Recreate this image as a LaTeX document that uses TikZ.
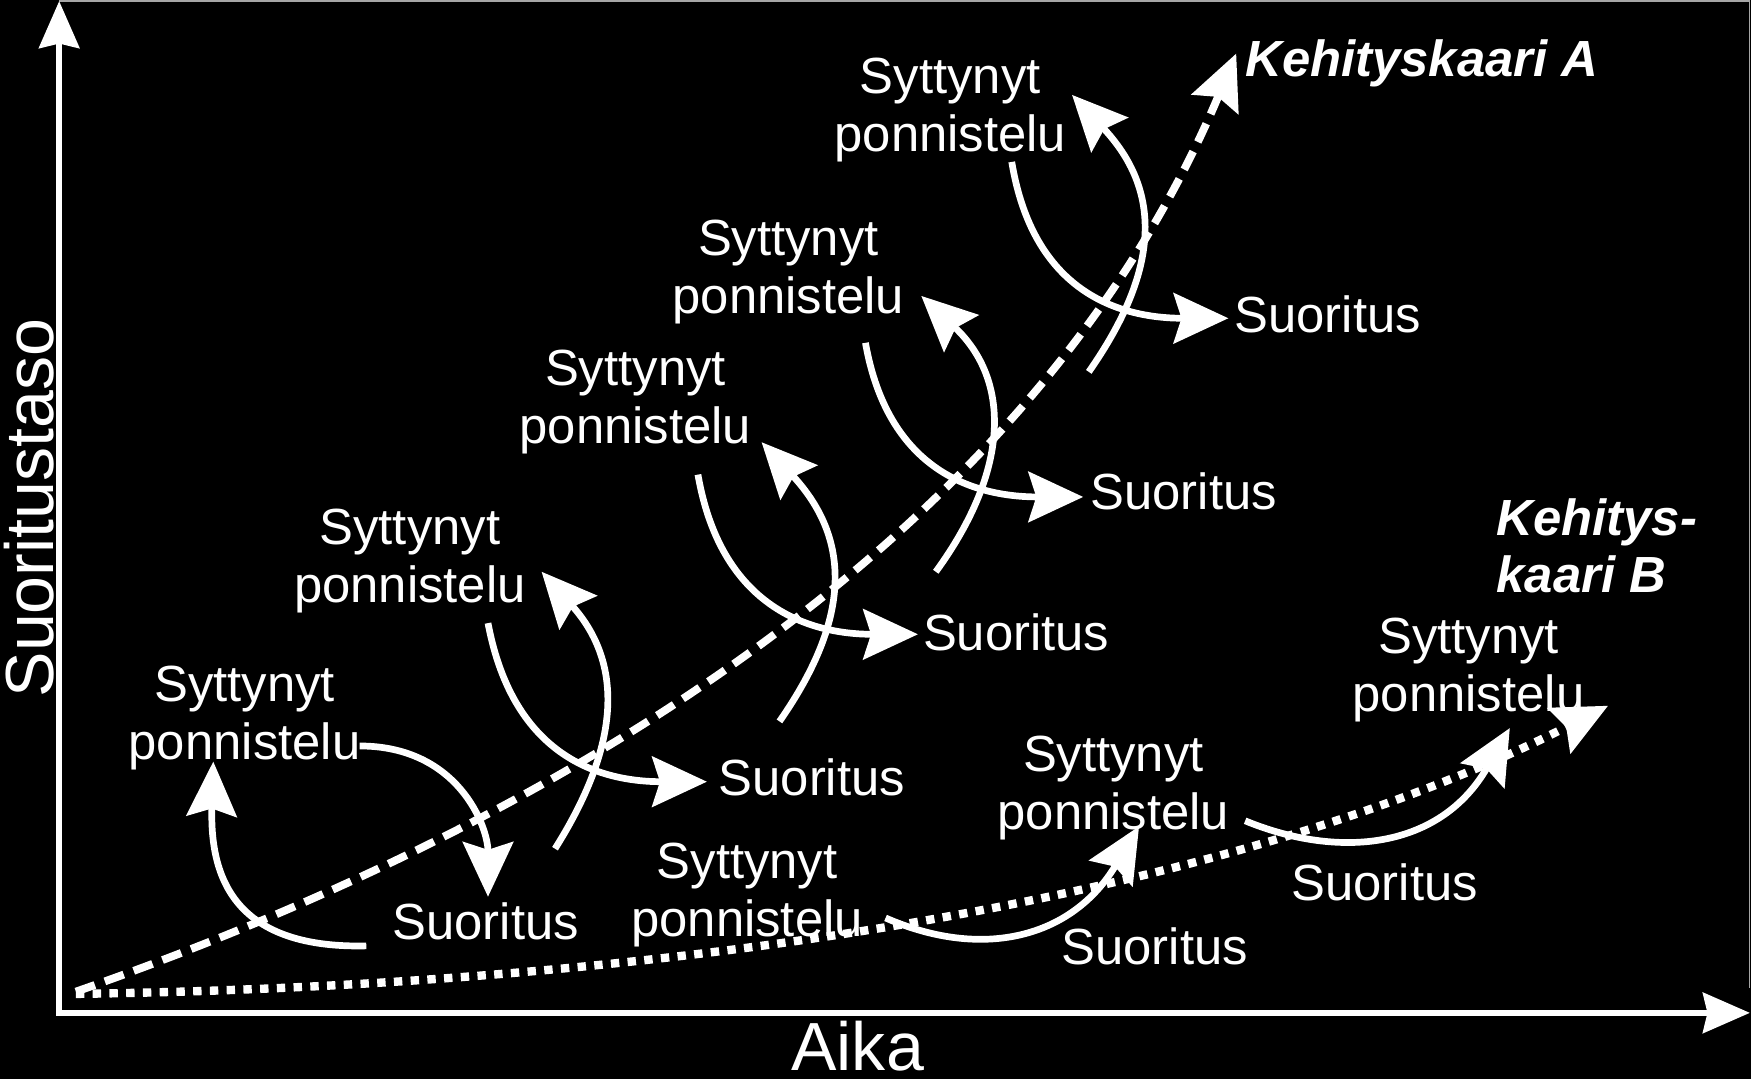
\documentclass[tikz,border=0pt]{standalone}
\usepackage{fontspec}
\setmainfont{Liberation Sans}
\usetikzlibrary{arrows.meta}
\begin{document}
\begin{tikzpicture}[x=1pt,y=-1pt,
  lbl/.style={text=white, font=\fontsize{45.5}{52}\selectfont, inner sep=0pt, align=center},
  axlbl/.style={text=white, font=\fontsize{61}{70}\selectfont, inner sep=0pt},
  bighead/.style={-{Stealth[length=49pt,width=45pt,inset=7pt]}},
  warrow/.style={draw=white, line width=6pt, bighead},
  curveA/.style={draw=white, line width=7pt, dash pattern=on 18pt off 9.5pt, bighead},
  curveB/.style={draw=white, line width=7.5pt, dash pattern=on 7.5pt off 7.5pt, bighead},
  axis/.style={draw=white, line width=5.5pt, -{Stealth[length=42pt,width=36pt,inset=4pt]}}
]
\useasboundingbox (0,0) rectangle (1568,966);
\fill[black] (0,0) rectangle (1568,966);
% frame
\coordinate (f1) at (53,1);
\coordinate (f2) at (1566.5,1);
\coordinate (f3) at (1566.5,885);
\draw[gray!70, line width=1.5pt] (f1) -- (f2) -- (f3);
% axes
\coordinate (o) at (53,907);
\coordinate (ytip) at (53,1);
\coordinate (xtip) at (1567,907);
\draw[axis] ([yshift=2pt]o) -- (ytip);
\draw[axis] ([xshift=-2.75pt]o) -- (xtip);
\node[axlbl, anchor=base] (aika) at (768,959) {Aika};
\node[axlbl, anchor=base, rotate=90] (taso) at (48,455) {Suoritustaso};

% labels
\node[lbl, anchor=north] (sp1) at (219,596.5) {Syttynyt\\ponnistelu};
\node[lbl, anchor=north] (sp2) at (367,455.5) {Syttynyt\\ponnistelu};
\node[lbl, anchor=north] (sp3) at (569,313.5) {Syttynyt\\ponnistelu};
\node[lbl, anchor=north] (sp4) at (706,196.5) {Syttynyt\\ponnistelu};
\node[lbl, anchor=north] (sp5) at (851,51.5) {Syttynyt\\ponnistelu};
\node[lbl, anchor=north] (spb1) at (669,754.5) {Syttynyt\\ponnistelu};
\node[lbl, anchor=north] (spb2) at (997,658.5) {Syttynyt\\ponnistelu};
\node[lbl, anchor=north] (spb3) at (1315,553.5) {Syttynyt\\ponnistelu};
\node[lbl, anchor=base] (s1) at (435,841.5) {Suoritus};
\node[lbl, anchor=base] (s2) at (727,712.5) {Suoritus};
\node[lbl, anchor=base] (s3) at (910,582.5) {Suoritus};
\node[lbl, anchor=base] (s4) at (1060,456.5) {Suoritus};
\node[lbl, anchor=base] (s5) at (1189,297.5) {Suoritus};
\node[lbl, anchor=base] (sb1) at (1034,863.5) {Suoritus};
\node[lbl, anchor=base] (sb2) at (1240,806.5) {Suoritus};
\node[lbl, anchor=base west, font=\fontsize{45.5}{52}\selectfont\bfseries\itshape] (ka) at (1115,68.5) {Kehityskaari A};
\node[lbl, anchor=north west, align=left, font=\fontsize{45.5}{51}\selectfont\bfseries\itshape] (kb) at (1340,446.5) {Kehitys-\\kaari B};

% development curves
\coordinate (c0) at (68,888);
\coordinate (cA) at (1107,48);
\coordinate (c0b) at (68,890);
\coordinate (cB) at (1440,632);
\draw[curveA] (c0) .. controls (520,730) and (930,470) .. (cA);
\draw[curveB] (c0b) .. controls (600,883) and (1100,805) .. (cB);

% arrow end points
\coordinate (a1s) at (322,668);   \coordinate (a1e) at (437,803);
\coordinate (a1bs) at (328,847);  \coordinate (a1be) at (191,682);
\coordinate (a2s) at (437,558);   \coordinate (a2e) at (633,700);
\coordinate (a2bs) at (497,760);  \coordinate (a2be) at (485,512);
\coordinate (a3s) at (625,425);   \coordinate (a3e) at (822,568);
\coordinate (a3bs) at (698,646);  \coordinate (a3be) at (682,396);
\coordinate (a4s) at (775,307);   \coordinate (a4e) at (970,445);
\coordinate (a4bs) at (838,512);  \coordinate (a4be) at (825,265);
\coordinate (a5s) at (906,145);   \coordinate (a5e) at (1100,285);
\coordinate (a5bs) at (975,333);  \coordinate (a5be) at (960,85);
\coordinate (b1s) at (793,822);   \coordinate (b1e) at (1020,740);
\coordinate (b2s) at (1115,735);  \coordinate (b2e) at (1352,652);

\draw[warrow] (a1s) .. controls (410,668) and (437,740) .. (a1e);
\draw[warrow] (a1bs) .. controls (205,850) and (188,780) .. (a1be);
\draw[warrow] (a2s) .. controls (460,680) and (540,700) .. (a2e);
\draw[warrow] (a2bs) .. controls (560,660) and (555,590) .. (a2be);
\draw[warrow] (a3s) .. controls (645,540) and (720,568) .. (a3e);
\draw[warrow] (a3bs) .. controls (765,550) and (760,480) .. (a3be);
\draw[warrow] (a4s) .. controls (795,420) and (870,445) .. (a4e);
\draw[warrow] (a4bs) .. controls (905,420) and (905,340) .. (a4be);
\draw[warrow] (a5s) .. controls (925,260) and (1000,285) .. (a5e);
\draw[warrow] (a5bs) .. controls (1040,240) and (1040,170) .. (a5be);
\draw[warrow] (b1s) .. controls (880,860) and (960,840) .. (b1e);
\draw[warrow] (b2s) .. controls (1200,770) and (1290,760) .. (b2e);
\end{tikzpicture}
\end{document}
